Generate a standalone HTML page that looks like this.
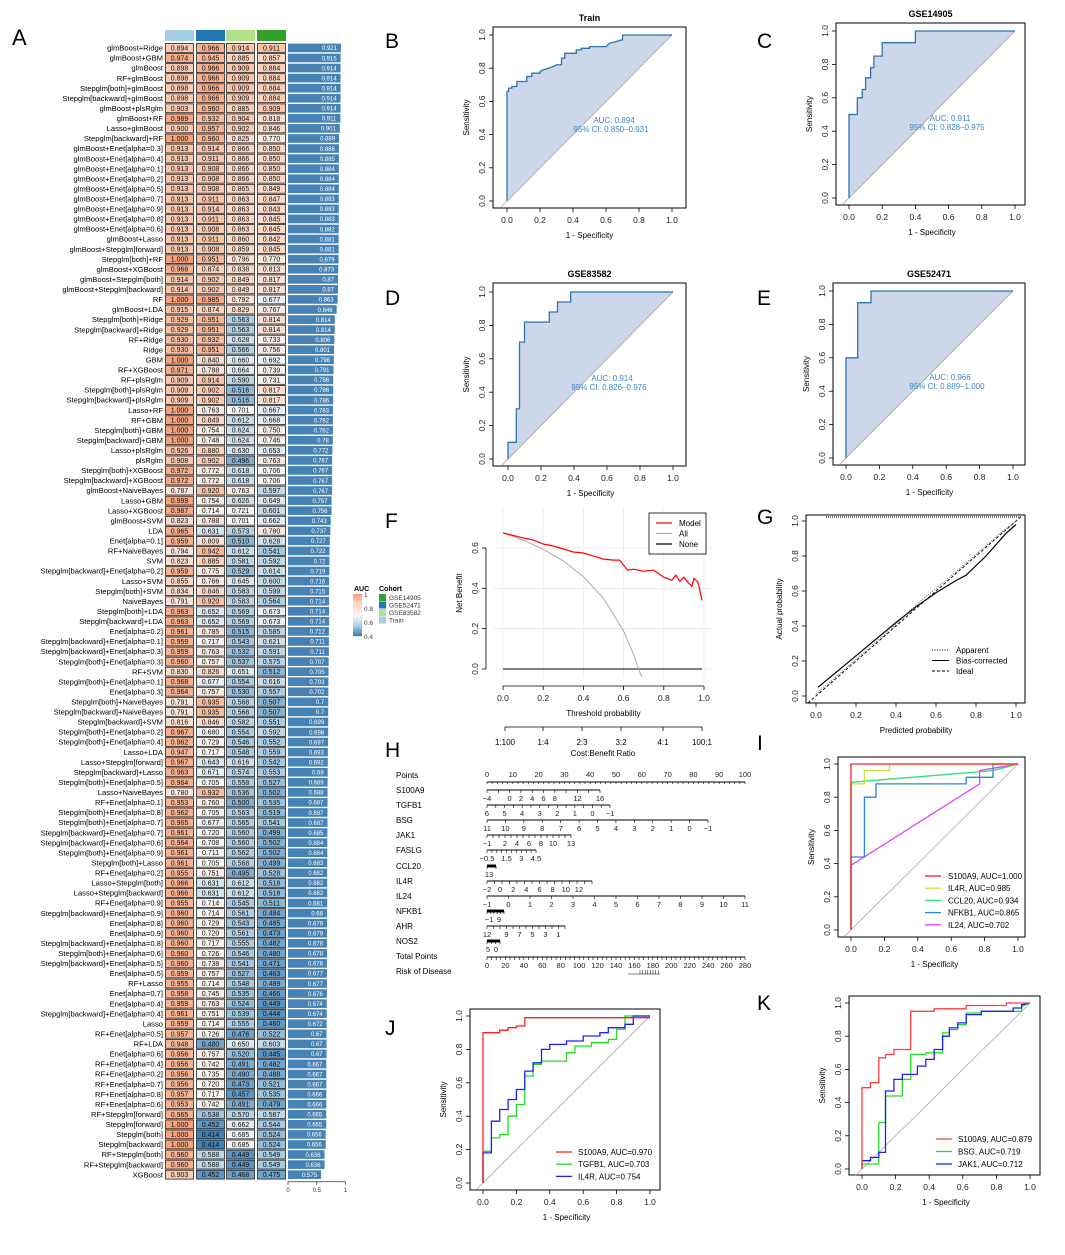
<!DOCTYPE html>
<html><head><meta charset="utf-8"><title>Model AUC figure</title>
<style>
html,body{margin:0;padding:0;background:#fff;}
svg text{font-family:"Liberation Sans",Arial,sans-serif;}
</style></head>
<body>
<svg id="fig" xmlns="http://www.w3.org/2000/svg" width="1065" height="1250" viewBox="0 0 1065 1250">
<rect x="0" y="0" width="1065" height="1250" fill="#fff"/>
<g id="panelA"></g>
<g id="plots"></g>
</svg>
<script>
// ===== Panel A data =====
const models = ["glmBoost+Ridge","glmBoost+GBM","glmBoost","RF+glmBoost","Stepglm[both]+glmBoost","Stepglm[backward]+glmBoost","glmBoost+plsRglm","glmBoost+RF","Lasso+glmBoost","Stepglm[backward]+RF","glmBoost+Enet[alpha=0.3]","glmBoost+Enet[alpha=0.4]","glmBoost+Enet[alpha=0.1]","glmBoost+Enet[alpha=0.2]","glmBoost+Enet[alpha=0.5]","glmBoost+Enet[alpha=0.7]","glmBoost+Enet[alpha=0.9]","glmBoost+Enet[alpha=0.8]","glmBoost+Enet[alpha=0.6]","glmBoost+Lasso","glmBoost+Stepglm[forward]","Stepglm[both]+RF","glmBoost+XGBoost","glmBoost+Stepglm[both]","glmBoost+Stepglm[backward]","RF","glmBoost+LDA","Stepglm[both]+Ridge","Stepglm[backward]+Ridge","RF+Ridge","Ridge","GBM","RF+XGBoost","RF+plsRglm","Stepglm[both]+plsRglm","Stepglm[backward]+plsRglm","Lasso+RF","RF+GBM","Stepglm[both]+GBM","Stepglm[backward]+GBM","Lasso+plsRglm","plsRglm","Stepglm[both]+XGBoost","Stepglm[backward]+XGBoost","glmBoost+NaiveBayes","Lasso+GBM","Lasso+XGBoost","glmBoost+SVM","LDA","Enet[alpha=0.1]","RF+NaiveBayes","SVM","Stepglm[backward]+Enet[alpha=0.2]","Lasso+SVM","Stepglm[both]+SVM","NaiveBayes","Stepglm[both]+LDA","Stepglm[backward]+LDA","Enet[alpha=0.2]","Stepglm[backward]+Enet[alpha=0.1]","Stepglm[backward]+Enet[alpha=0.3]","Stepglm[both]+Enet[alpha=0.3]","RF+SVM","Stepglm[both]+Enet[alpha=0.1]","Enet[alpha=0.3]","Stepglm[both]+NaiveBayes","Stepglm[backward]+NaiveBayes","Stepglm[backward]+SVM","Stepglm[both]+Enet[alpha=0.2]","Stepglm[both]+Enet[alpha=0.4]","Lasso+LDA","Lasso+Stepglm[forward]","Stepglm[backward]+Lasso","Stepglm[both]+Enet[alpha=0.5]","Lasso+NaiveBayes","RF+Enet[alpha=0.1]","Stepglm[both]+Enet[alpha=0.8]","Stepglm[both]+Enet[alpha=0.7]","Stepglm[backward]+Enet[alpha=0.7]","Stepglm[backward]+Enet[alpha=0.6]","Stepglm[both]+Enet[alpha=0.9]","Stepglm[both]+Lasso","RF+Enet[alpha=0.2]","Lasso+Stepglm[both]","Lasso+Stepglm[backward]","RF+Enet[alpha=0.9]","Stepglm[backward]+Enet[alpha=0.9]","Enet[alpha=0.8]","Enet[alpha=0.9]","Stepglm[backward]+Enet[alpha=0.8]","Stepglm[both]+Enet[alpha=0.6]","Stepglm[backward]+Enet[alpha=0.5]","Enet[alpha=0.5]","RF+Lasso","Enet[alpha=0.7]","Enet[alpha=0.4]","Stepglm[backward]+Enet[alpha=0.4]","Lasso","RF+Enet[alpha=0.5]","RF+LDA","Enet[alpha=0.6]","RF+Enet[alpha=0.4]","RF+Enet[alpha=0.2]","RF+Enet[alpha=0.7]","RF+Enet[alpha=0.8]","RF+Enet[alpha=0.6]","RF+Stepglm[forward]","Stepglm[forward]","Stepglm[both]","Stepglm[backward]","RF+Stepglm[both]","RF+Stepglm[backward]","XGBoost"];
const cohorts = ["Train","GSE52471","GSE83582","GSE14905"];
const aucTrain = [0.894,0.974,0.898,0.898,0.898,0.898,0.903,0.989,0.900,1.000,0.913,0.913,0.913,0.913,0.913,0.913,0.913,0.913,0.913,0.913,0.913,1.000,0.968,0.914,0.914,1.000,0.915,0.929,0.929,0.930,0.930,1.000,0.971,0.909,0.909,0.909,1.000,1.000,1.000,1.000,0.926,0.908,0.972,0.972,0.787,0.999,0.987,0.823,0.965,0.959,0.794,0.823,0.959,0.855,0.834,0.791,0.963,0.963,0.961,0.959,0.959,0.960,0.830,0.968,0.964,0.791,0.791,0.816,0.967,0.962,0.947,0.967,0.963,0.964,0.780,0.953,0.962,0.965,0.961,0.964,0.961,0.961,0.955,0.966,0.966,0.955,0.960,0.960,0.960,0.960,0.960,0.960,0.959,0.955,0.958,0.959,0.961,0.959,0.957,0.948,0.956,0.956,0.956,0.956,0.957,0.953,0.965,1.000,1.000,1.000,0.960,0.960,0.903];
const aucGSE52471 = [0.966,0.945,0.966,0.966,0.966,0.966,0.960,0.932,0.957,0.960,0.914,0.911,0.908,0.908,0.908,0.911,0.914,0.911,0.908,0.911,0.908,0.951,0.874,0.902,0.902,0.985,0.874,0.951,0.951,0.932,0.951,0.840,0.788,0.914,0.902,0.902,0.763,0.849,0.754,0.748,0.880,0.902,0.772,0.772,0.920,0.754,0.714,0.788,0.631,0.809,0.942,0.885,0.775,0.766,0.846,0.920,0.652,0.652,0.785,0.717,0.763,0.757,0.826,0.677,0.757,0.935,0.935,0.846,0.680,0.729,0.717,0.643,0.671,0.705,0.932,0.760,0.705,0.677,0.720,0.708,0.711,0.705,0.751,0.631,0.631,0.714,0.714,0.729,0.720,0.717,0.726,0.738,0.757,0.714,0.745,0.763,0.751,0.714,0.726,0.480,0.757,0.742,0.735,0.720,0.717,0.742,0.538,0.452,0.414,0.414,0.588,0.588,0.452];
const aucGSE83582 = [0.914,0.885,0.909,0.909,0.909,0.909,0.885,0.904,0.902,0.825,0.866,0.866,0.866,0.866,0.865,0.863,0.863,0.863,0.863,0.860,0.859,0.796,0.838,0.849,0.849,0.792,0.829,0.563,0.563,0.628,0.566,0.660,0.664,0.590,0.516,0.516,0.701,0.612,0.624,0.624,0.630,0.496,0.618,0.618,0.763,0.626,0.721,0.701,0.573,0.510,0.612,0.581,0.529,0.645,0.583,0.583,0.569,0.569,0.515,0.543,0.532,0.537,0.651,0.554,0.530,0.568,0.568,0.582,0.554,0.546,0.548,0.616,0.574,0.558,0.536,0.500,0.563,0.565,0.560,0.560,0.562,0.568,0.495,0.612,0.612,0.545,0.561,0.543,0.561,0.555,0.546,0.541,0.527,0.548,0.535,0.524,0.539,0.555,0.476,0.650,0.520,0.491,0.490,0.473,0.457,0.491,0.570,0.662,0.685,0.685,0.449,0.449,0.468];
const aucGSE14905 = [0.911,0.857,0.884,0.884,0.884,0.884,0.909,0.818,0.846,0.770,0.850,0.850,0.850,0.850,0.849,0.847,0.843,0.845,0.845,0.842,0.845,0.770,0.813,0.817,0.817,0.677,0.767,0.814,0.814,0.733,0.756,0.692,0.739,0.731,0.817,0.817,0.667,0.668,0.750,0.746,0.653,0.763,0.706,0.706,0.597,0.649,0.601,0.662,0.780,0.628,0.541,0.592,0.614,0.600,0.599,0.564,0.673,0.673,0.585,0.621,0.591,0.575,0.512,0.616,0.557,0.507,0.507,0.551,0.592,0.552,0.559,0.542,0.553,0.527,0.502,0.535,0.519,0.541,0.499,0.502,0.502,0.499,0.528,0.518,0.518,0.511,0.484,0.485,0.473,0.482,0.480,0.471,0.463,0.489,0.466,0.449,0.444,0.460,0.522,0.603,0.445,0.482,0.488,0.521,0.535,0.479,0.587,0.544,0.524,0.524,0.549,0.549,0.475];
const meanAuc = [0.921,0.915,0.914,0.914,0.914,0.914,0.914,0.911,0.901,0.889,0.886,0.885,0.884,0.884,0.884,0.883,0.883,0.883,0.882,0.881,0.881,0.879,0.873,0.87,0.87,0.863,0.846,0.814,0.814,0.806,0.801,0.798,0.791,0.786,0.786,0.786,0.783,0.782,0.782,0.78,0.772,0.767,0.767,0.767,0.767,0.757,0.756,0.743,0.737,0.727,0.722,0.72,0.719,0.716,0.715,0.714,0.714,0.714,0.712,0.711,0.711,0.707,0.705,0.703,0.702,0.7,0.7,0.699,0.698,0.697,0.693,0.692,0.69,0.689,0.688,0.687,0.687,0.687,0.685,0.684,0.684,0.683,0.682,0.682,0.682,0.681,0.68,0.679,0.679,0.678,0.678,0.678,0.677,0.677,0.676,0.674,0.674,0.672,0.67,0.67,0.67,0.667,0.667,0.667,0.666,0.666,0.665,0.665,0.656,0.656,0.636,0.636,0.575];
const barTicks = [0,0.5,1];

// ===== Panels B-E ROC data (fpr, tpr) =====
const rocTrainFpr = [0,0,0.01,0.01,0.03,0.03,0.06,0.06,0.12,0.12,0.15,0.15,0.2,0.2,0.22,0.25,0.28,0.3,0.33,0.33,0.35,0.35,0.42,0.42,0.45,0.45,0.5,0.5,0.6,0.62,0.66,0.69,0.7,0.7,1];
const rocTrainTpr = [0,0.66,0.66,0.68,0.68,0.69,0.69,0.72,0.72,0.75,0.75,0.77,0.77,0.78,0.79,0.8,0.81,0.82,0.82,0.86,0.86,0.89,0.89,0.91,0.91,0.92,0.92,0.93,0.93,0.95,0.96,0.97,0.97,1,1];
const rocG14905Fpr = [0,0,0.05,0.05,0.08,0.08,0.1,0.1,0.13,0.13,0.15,0.15,0.2,0.2,0.4,0.4,1];
const rocG14905Tpr = [0,0.5,0.5,0.6,0.6,0.65,0.65,0.72,0.72,0.78,0.78,0.85,0.85,0.93,0.93,1,1];
const rocG83582Fpr = [0,0,0.05,0.05,0.07,0.07,0.1,0.1,0.25,0.25,0.3,0.3,0.38,0.38,1];
const rocG83582Tpr = [0,0.1,0.1,0.3,0.3,0.7,0.7,0.82,0.82,0.88,0.88,0.94,0.94,1,1];
const rocG52471Fpr = [0,0,0.07,0.07,0.15,0.15,1];
const rocG52471Tpr = [0,0.6,0.6,0.93,0.93,1,1];

// ===== Panel F DCA =====
const dcaT = [0,0.1,0.15,0.2,0.25,0.3,0.35,0.4,0.45,0.5,0.55,0.58,0.62,0.65,0.7,0.75,0.8,0.84,0.86,0.88,0.9,0.92,0.94,0.95,0.97,0.99];
const dcaModel = [0.675,0.65,0.64,0.62,0.61,0.595,0.58,0.575,0.56,0.545,0.54,0.54,0.49,0.495,0.485,0.49,0.455,0.44,0.465,0.435,0.455,0.43,0.41,0.45,0.43,0.34];
const dcaAllT = [0,0.1,0.2,0.3,0.4,0.5,0.6,0.65,0.675,0.69];
const dcaAll = [0.675,0.639,0.594,0.536,0.458,0.35,0.188,0.071,0,-0.04];

// ===== Panel G calibration =====
const calPred = [0.01,0.2,0.4,0.5,0.6,0.7,0.75,0.85,0.95,1.0];
const calBias = [0.05,0.23,0.42,0.51,0.59,0.66,0.69,0.8,0.93,0.98];
const calAppPred = [0,0.2,0.4,0.5,0.7,0.9,1];
const calApparent = [0.01,0.21,0.41,0.52,0.71,0.91,1];

// ===== Panel I =====
const iS100A9Fpr=[0,0,1], iS100A9Tpr=[0,1,1];
const iIL4RFpr=[0,0,0.08,0.08,0.23,0.23,1], iIL4RTpr=[0,0.88,0.88,0.96,0.96,1,1];
const iCCL20Fpr=[0,0,0.85,1], iCCL20Tpr=[0,0.89,0.96,1];
const iNFKB1Fpr=[0,0,0.08,0.08,0.15,0.15,0.69,0.69,0.85,0.85,1], iNFKB1Tpr=[0,0.44,0.44,0.8,0.8,0.88,0.88,0.92,0.92,1,1];
const iIL24Fpr=[0,0,0.77,0.77,1], iIL24Tpr=[0,0.39,0.88,0.96,1];

// ===== Panel J =====
const jS100A9Fpr=[0,0,0.1,0.1,0.15,0.15,0.2,0.2,0.25,0.25,1], jS100A9Tpr=[0,0.9,0.9,0.915,0.915,0.93,0.93,0.94,0.94,0.99,0.99];
const jTGFB1Fpr=[0,0,0.05,0.05,0.1,0.1,0.15,0.15,0.2,0.2,0.25,0.25,0.3,0.3,0.35,0.35,0.5,0.5,0.55,0.55,0.65,0.65,0.75,0.75,0.8,0.8,0.85,0.85,1];
const jTGFB1Tpr=[0,0.19,0.19,0.27,0.27,0.29,0.29,0.4,0.4,0.47,0.47,0.64,0.64,0.71,0.71,0.73,0.73,0.78,0.78,0.82,0.82,0.84,0.84,0.86,0.86,0.92,0.92,1,1];
const jIL4RFpr=[0,0,0.05,0.05,0.1,0.1,0.15,0.15,0.2,0.2,0.25,0.25,0.3,0.3,0.35,0.35,0.4,0.4,0.5,0.5,0.6,0.6,0.7,0.7,0.75,0.75,0.85,0.85,0.9,0.9,1];
const jIL4RTpr=[0,0.18,0.18,0.37,0.37,0.44,0.44,0.5,0.5,0.56,0.56,0.67,0.67,0.72,0.72,0.8,0.8,0.83,0.83,0.85,0.85,0.88,0.88,0.9,0.9,0.93,0.93,0.95,0.95,1,1];

// ===== Panel K =====
const kS100A9Fpr=[0,0,0.05,0.05,0.1,0.1,0.14,0.14,0.19,0.19,0.29,0.29,0.43,0.43,0.62,0.62,0.86,0.86,1];
const kS100A9Tpr=[0,0.49,0.49,0.52,0.52,0.67,0.67,0.69,0.69,0.72,0.72,0.95,0.95,0.965,0.965,0.985,0.985,1,1];
const kBSGFpr=[0,0,0.1,0.1,0.14,0.14,0.24,0.24,0.29,0.29,0.38,0.38,0.48,0.48,0.52,0.52,0.57,0.57,0.62,0.62,0.71,0.71,0.95,0.95,1];
const kBSGTpr=[0,0.03,0.03,0.28,0.28,0.44,0.44,0.54,0.54,0.69,0.69,0.7,0.7,0.82,0.82,0.84,0.84,0.87,0.87,0.94,0.94,0.95,0.95,0.98,1];
const kJAK1Fpr=[0,0,0.05,0.05,0.1,0.1,0.14,0.14,0.19,0.19,0.24,0.24,0.33,0.33,0.38,0.38,0.43,0.43,0.48,0.48,0.52,0.52,0.57,0.57,0.62,0.62,0.71,0.71,0.9,0.9,0.95,0.95,1];
const kJAK1Tpr=[0,0.05,0.05,0.07,0.07,0.1,0.1,0.47,0.47,0.54,0.54,0.57,0.57,0.62,0.62,0.66,0.66,0.72,0.72,0.8,0.8,0.85,0.85,0.88,0.88,0.93,0.93,0.95,0.95,0.97,0.97,0.99,1];

const NS="http://www.w3.org/2000/svg";
function mk(tag,attrs,parent,txt){const e=document.createElementNS(NS,tag);for(const k in attrs)e.setAttribute(k,attrs[k]);if(txt!==undefined)e.textContent=txt;(parent||plots).appendChild(e);return e;}
const plots=document.getElementById('plots');
const gA=document.getElementById('panelA');

function hex(c){return [parseInt(c.slice(1,3),16),parseInt(c.slice(3,5),16),parseInt(c.slice(5,7),16)];}
function mix(a,b,t){const A=hex(a),B=hex(b);return 'rgb('+A.map((v,i)=>Math.round(v+(B[i]-v)*t)).join(',')+')';}
function aucColor(v){
  if(v>=0.7){const t=Math.min(1,(v-0.7)/0.3);return t<0.6?mix('#f7f7f7','#fbd3bd',t/0.6):mix('#fbd3bd','#f5a27c',(t-0.6)/0.4);}
  const t=Math.min(1,(0.7-v)/0.3);return t<0.5?mix('#f7f7f7','#a9cce2',t/0.5):mix('#a9cce2','#3279b4',(t-0.5)/0.5);
}

// ----- Panel A -----
(function(){
  const top=43, rh=10.06, colX=[165,196,226,257], cw=29;
  const hdr=['#a6cee3','#1f78b4','#b2df8a','#33a02c'];
  const cols=[aucTrain,aucGSE52471,aucGSE83582,aucGSE14905];
  const t=mk('text',{x:12,y:45,'font-size':22},gA,'A');
  
  
  for(let c=0;c<4;c++){
    const r=mk('rect',{x:colX[c],y:30,width:cw,height:11,fill:hdr[c]},gA);
    
    
  }
  const bx0=288, bw=57.5;
  for(let i=0;i<models.length;i++){
    const y=top+i*rh;
    const lab=mk('text',{x:163,y:y+7.6,'font-size':7.6,'text-anchor':'end'},gA,models[i]);
    
    
    for(let c=0;c<4;c++){
      const v=cols[c][i];
      const r=mk('rect',{x:colX[c]+0.5,y:y+0.5,width:cw-1,height:rh-1.2,fill:aucColor(v),stroke:'#222','stroke-width':0.8},gA);
      
      
      const tx=mk('text',{x:colX[c]+cw/2,y:y+7.4,'font-size':7,'text-anchor':'middle',fill:'#111'},gA,v.toFixed(3));
      
      
    }
    const m=meanAuc[i];
    const b=mk('rect',{x:bx0,y:y+0.6,width:m*bw,height:rh-1.4,fill:'#4682b4'},gA);
    
    
    const bt=mk('text',{x:bx0+m*bw-4,y:y+7.2,'font-size':6,'text-anchor':'end',fill:'#fff'},gA,String(m));
    
    
  }
  const ay=top+models.length*rh+2;
  mk('line',{x1:bx0,x2:bx0+bw,y1:ay,y2:ay,stroke:'#333','stroke-width':0.7},gA);
  barTicks.forEach(v=>{
    mk('line',{x1:bx0+v*bw,x2:bx0+v*bw,y1:ay,y2:ay+3,stroke:'#333','stroke-width':0.7},gA);
    const tt=mk('text',{x:bx0+v*bw,y:ay+10,'font-size':6,'text-anchor':'middle',fill:'#333'},gA,String(v));
    
    
  });
  mk('text',{x:354,y:591,'font-size':7,'font-weight':'bold'},gA,'AUC');
  const steps=42;
  for(let k=0;k<steps;k++){const v=1-0.6*k/steps;mk('rect',{x:353,y:594+k,width:9,height:1.2,fill:aucColor(v)},gA);}
  [[1,'1'],[0.8,'0.8'],[0.6,'0.6'],[0.4,'0.4']].forEach(([v,l])=>{const y=594+(1-v)/0.6*42;mk('text',{x:364,y:y+3,'font-size':6.5,fill:'#444'},gA,l);});
  mk('text',{x:379,y:591,'font-size':7,'font-weight':'bold'},gA,'Cohort');
  [['#33a02c','GSE14905'],['#1f78b4','GSE52471'],['#b2df8a','GSE83582'],['#a6cee3','Train']].forEach(([c,l],k)=>{
    const y=594+k*7.5;
    const r=mk('rect',{x:379,y:y,width:7,height:7,fill:c},gA);
    
    
    mk('text',{x:389,y:y+6,'font-size':6.5,fill:'#333'},gA,l);
  });
})();

function panelLetter(l,x,y){const t=mk('text',{x:x,y:y,'font-size':21},plots,l);}

function frame(o){
  const g=mk('g',{});
  
  
  if(o.box!==false) mk('rect',{x:o.bx,y:o.by,width:o.bw,height:o.bh,fill:'none',stroke:'#000','stroke-width':1},g);
  const sx=v=>o.x0+(o.x1-o.x0)*(v-o.xmin)/(o.xmax-o.xmin);
  const sy=v=>o.y0+(o.y1-o.y0)*(v-o.ymin)/(o.ymax-o.ymin);
  const ab=o.by+o.bh+(o.axOff||0);
  mk('line',{x1:sx(o.xt[0]),x2:sx(o.xt[o.xt.length-1]),y1:ab,y2:ab,stroke:'#000','stroke-width':0.8},g);
  o.xt.forEach(v=>{mk('line',{x1:sx(v),x2:sx(v),y1:ab,y2:ab+4,stroke:'#000','stroke-width':0.8},g);
    mk('text',{x:sx(v),y:ab+15,'font-size':8.5,'text-anchor':'middle',fill:'#222'},g,v.toFixed(1));});
  const al=o.bx-(o.axOff||0);
  mk('line',{x1:al,x2:al,y1:sy(o.yt[0]),y2:sy(o.yt[o.yt.length-1]),stroke:'#000','stroke-width':0.8},g);
  o.yt.forEach(v=>{mk('line',{x1:al,x2:al-4,y1:sy(v),y2:sy(v),stroke:'#000','stroke-width':0.8},g);
    mk('text',{x:al-8,y:sy(v),'font-size':8.5,'text-anchor':'middle',fill:'#222',transform:`rotate(-90 ${al-8} ${sy(v)})`},g,v.toFixed(1));});
  if(o.xlab) mk('text',{x:(o.x0+o.x1)/2,y:ab+30,'font-size':8,'text-anchor':'middle'},g,o.xlab);
  if(o.ylab){const yy=(o.by+o.by+o.bh)/2,xx=al-24;mk('text',{x:xx,y:yy,'font-size':8,'text-anchor':'middle',transform:`rotate(-90 ${xx} ${yy})`},g,o.ylab);}
  if(o.title) mk('text',{x:(o.bx+o.bx+o.bw)/2,y:o.by-6,'font-size':9,'font-weight':'bold','text-anchor':'middle'},g,o.title);
  return {g,sx,sy};
}
const T01=[0,0.2,0.4,0.6,0.8,1.0];
function rocPanel(o){
  const f=frame(Object.assign({xmin:0,xmax:1,ymin:0,ymax:1,xt:T01,yt:T01,xlab:'1 - Specificity',ylab:'Sensitivity',axOff:0},o));
  const {g,sx,sy}=f;
  mk('line',{x1:sx(-0.04),y1:sy(-0.04),x2:sx(1),y2:sy(1),stroke:'#aaa','stroke-width':0.8},g);
  return f;
}
function curve(g,sx,sy,xs,ys,color,name,w){
  const p=mk('polyline',{points:xs.map((x,i)=>sx(x).toFixed(1)+','+sy(ys[i]).toFixed(1)).join(' '),fill:'none',stroke:color,'stroke-width':w||1.3},g);
  
  
  return p;
}
function filledRoc(o,fx,fy,auc,ci,ax,ay){
  const {g,sx,sy}=rocPanel(o);
  const pts=fx.map((x,i)=>sx(x).toFixed(1)+','+sy(fy[i]).toFixed(1));
  pts.push(sx(0).toFixed(1)+','+sy(0).toFixed(1));
  const a=mk('polygon',{points:pts.join(' '),fill:'#ccd7e9',stroke:'none'},g);
  
  
  mk('line',{x1:sx(0),y1:sy(0),x2:sx(1),y2:sy(1),stroke:'#aaa','stroke-width':0.8},g);
  curve(g,sx,sy,fx,fy,'#2e74b5','roc-curve',1.3);
  mk('text',{x:ax,y:ay,'font-size':8,'text-anchor':'middle',fill:'#3d85c6'},g,'AUC: '+auc);
  mk('text',{x:ax-3,y:ay+9,'font-size':8,'text-anchor':'middle',fill:'#3d85c6'},g,'95% CI: '+ci);
}
panelLetter('B',385,48);panelLetter('C',757,48);panelLetter('D',385,305);panelLetter('E',757,305);
panelLetter('F',385,528);panelLetter('G',757,524);panelLetter('H',385,757);panelLetter('I',757,750);
panelLetter('J',385,1035);panelLetter('K',757,1010);

filledRoc({name:'roc-train',bx:493,by:27,bw:193,bh:181,x0:507,x1:672,y0:201,y1:35,title:'Train'},rocTrainFpr,rocTrainTpr,'0.894','0.850\u20130.931',614,123);
filledRoc({name:'roc-gse14905',bx:836,by:23,bw:189,bh:182,x0:849,x1:1015,y0:198,y1:31,title:'GSE14905'},rocG14905Fpr,rocG14905Tpr,'0.911','0.828\u20130.975',950,121);
filledRoc({name:'roc-gse83582',bx:493,by:283,bw:193,bh:183,x0:508,x1:673,y0:459,y1:292,title:'GSE83582'},rocG83582Fpr,rocG83582Tpr,'0.914','0.826\u20130.976',612,381);
filledRoc({name:'roc-gse52471',bx:833,by:283,bw:192,bh:182,x0:846,x1:1013,y0:458,y1:291,title:'GSE52471'},rocG52471Fpr,rocG52471Tpr,'0.966','0.889\u20131.000',950,380);

// ----- Panel F DCA -----
(function(){
  const f=frame({name:'dca-plot',box:false,bx:494,by:508,bw:215,bh:170,x0:503,x1:704,y0:669,y1:548,xmin:0,xmax:1,ymin:0,ymax:0.6,xt:T01,yt:[0,0.2,0.4,0.6],xlab:'Threshold probability',ylab:'Net Benefit',axOff:8});
  const {g,sx,sy}=f;
  [0,0.2,0.4,0.6].forEach(v=>mk('line',{x1:494,x2:712,y1:sy(v),y2:sy(v),stroke:'#e6e6e6','stroke-width':0.8},g));
  T01.forEach(v=>mk('line',{x1:sx(v),x2:sx(v),y1:508,y2:678,stroke:'#ececec','stroke-width':0.8},g));
  const nl=mk('line',{x1:sx(0),x2:sx(0.99),y1:sy(0),y2:sy(0),stroke:'#000','stroke-width':1},g);
  
  
  curve(g,sx,sy,dcaAllT,dcaAll,'#aaaaaa','dca-all',1);
  curve(g,sx,sy,dcaT,dcaModel,'#ff0000','dca-model',1.2);
  const lg=mk('g',{},g);
  mk('rect',{x:649,y:513,width:57,height:41,fill:'#fff',stroke:'#000','stroke-width':0.8},lg);
  [['#ff0000','Model'],['#aaaaaa','All'],['#000','None']].forEach(([c,l],k)=>{const y=523+k*10.5;mk('line',{x1:656,x2:672,y1:y,y2:y,stroke:c,'stroke-width':1.2},lg);mk('text',{x:679,y:y+3,'font-size':8},lg,l);});
  const cb=['1:100','1:4','2:3','3:2','4:1','100:1'], cbx=[505,543,582,621,663,702];
  mk('line',{x1:505,x2:702,y1:727,y2:727,stroke:'#000','stroke-width':0.8},g);
  cb.forEach((l,k)=>{mk('line',{x1:cbx[k],x2:cbx[k],y1:727,y2:731,stroke:'#000','stroke-width':0.8},g);mk('text',{x:cbx[k],y:745,'font-size':8,'text-anchor':'middle'},g,l);});
  mk('text',{x:603,y:756,'font-size':8,'text-anchor':'middle'},g,'Cost:Benefit Ratio');
})();

// ----- Panel G calibration -----
(function(){
  const f=frame({name:'calibration-plot',bx:806,by:515,bw:219,bh:188,x0:816,x1:1016,y0:696,y1:521,xmin:0,xmax:1,ymin:0,ymax:1,xt:T01,yt:T01,xlab:'Predicted probability',ylab:'Actual probability',axOff:0});
  const {g,sx,sy}=f;
  const id=mk('line',{x1:sx(-0.04),y1:sy(-0.04),x2:sx(1.03),y2:sy(1.03),stroke:'#000','stroke-width':0.9,'stroke-dasharray':'3,2'},g);
  
  
  curve(g,sx,sy,calAppPred,calApparent,'#555','apparent-line',0.9).setAttribute('stroke-dasharray','1,1.5');
  curve(g,sx,sy,calPred,calBias,'#000','bias-corrected-line',1.2);
  mk('line',{x1:sx(0.05),x2:sx(1.02),y1:517,y2:517,stroke:'#000','stroke-width':1,'stroke-dasharray':'1,1'},g);
  [['1,1.5','Apparent'],['','Bias-corrected'],['3,2','Ideal']].forEach(([d,l],k)=>{const y=650+k*10.5;const ln=mk('line',{x1:932,x2:949,y1:y,y2:y,stroke:'#000','stroke-width':1},g);if(d)ln.setAttribute('stroke-dasharray',d);mk('text',{x:956,y:y+3,'font-size':8},g,l);});
})();

// ----- Panel H nomogram -----
(function(){
  const g=mk('g',{});
  const px0=487,px1=745;
  const rowsY=[775,790,805,820,835,850,866,881,896,911,926,941,956,971];
  const names=['Points','S100A9','TGFB1','BSG','JAK1','FASLG','CCL20','IL4R','IL24','NFKB1','AHR','NOS2','Total Points','Risk of Disease'];
  names.forEach((n,k)=>{const t=mk('text',{x:396,y:rowsY[k]+3,'font-size':8},g,n);});
  function scale(y,xa,xb,labels,lx,nMinor,above,thick){
    mk('line',{x1:xa,x2:xb,y1:y,y2:y,stroke:'#000','stroke-width':thick?3:0.9},g);
    for(let i=0;i<=nMinor;i++){const x=xa+(xb-xa)*i/nMinor;mk('line',{x1:x,x2:x,y1:y,y2:above?y+2:y+3,stroke:'#000','stroke-width':0.6},g);}
    labels.forEach((l,i)=>mk('text',{x:lx[i],y:above?y-5:y+11,'font-size':7.5,'text-anchor':'middle',fill:'#222'},g,l));
  }
  const pts=[0,10,20,30,40,50,60,70,80,90,100];
  scale(782,px0,px1,pts.map(String),pts.map(v=>px0+(px1-px0)*v/100),50,true);
  const L=(a,b,vals,vmin,vmax)=>vals.map(v=>a+(b-a)*(v-vmin)/(vmax-vmin));
  scale(790,487,600,['\u22124','0','2','4','6','8','12','16'],L(487,600,[-4,0,2,4,6,8,12,16],-4,16),10);
  scale(805,487,610,['6','5','4','3','2','1','0','\u22121'],L(487,610,[6,5,4,3,2,1,0,-1],6,-1),14);
  scale(820,487,708,['11','10','9','8','7','6','5','4','3','2','1','0','\u22121'],L(487,708,[11,10,9,8,7,6,5,4,3,2,1,0,-1],11,-1),12);
  scale(835,487,571,['\u22121','2','4','6','8','10','13'],L(487,571,[-1,2,4,6,8,10,13],-1,13),14);
  scale(850,487,536,['\u22120.5','1.5','3','4.5'],L(487,536,[-0.5,1.5,3,4.5],-0.5,4.5),10);
  scale(866,487,496,['13'],[489],1,false,true);
  scale(881,487,592,['\u22122','0','2','4','6','8','10','12'],L(487,592,[-2,0,2,4,6,8,10,12],-2,14),14);
  scale(896,487,745,['\u22121','0','1','2','3','4','5','6','7','8','9','10','11'],L(487,745,[-1,0,1,2,3,4,5,6,7,8,9,10,11],-1,11),12);
  scale(911,487,504,['\u22121','9'],[489,499],5,false,true);
  scale(926,487,565,['12','9','7','5','3','1'],L(487,565,[12,9,7,5,3,1],12,0),12);
  scale(941,487,500,['5','0'],[488,496],3,false,true);
  const tp=[0,20,40,60,80,100,120,140,160,180,200,220,240,260,280];
  scale(957,px0,px1,tp.map(String),tp.map(v=>px0+(px1-px0)*v/280),56,false);
  mk('line',{x1:628,x2:660,y1:974,y2:974,stroke:'#000','stroke-width':0.6},g);
  for(let i=0;i<8;i++){const x=640+i*2.6;mk('line',{x1:x,x2:x,y1:970,y2:974,stroke:'#000','stroke-width':0.5},g);}
})();

// ----- Panel I -----
(function(){
  const {g,sx,sy}=rocPanel({name:'roc-genes-i',bx:838,by:757,bw:187,bh:180,x0:851,x1:1018,y0:930,y1:764});
  curve(g,sx,sy,iIL24Fpr,iIL24Tpr,'#e040fb','roc-il24');
  curve(g,sx,sy,iNFKB1Fpr,iNFKB1Tpr,'#2f80ed','roc-nfkb1');
  curve(g,sx,sy,iCCL20Fpr,iCCL20Tpr,'#2ee06e','roc-ccl20');
  curve(g,sx,sy,iIL4RFpr,iIL4RTpr,'#c8e040','roc-il4r');
  curve(g,sx,sy,iS100A9Fpr,iS100A9Tpr,'#ff2020','roc-s100a9');
  [['#ff2020','S100A9, AUC=1.000'],['#c8e040','IL4R, AUC=0.985'],['#2ee06e','CCL20, AUC=0.934'],['#2f80ed','NFKB1, AUC=0.865'],['#e040fb','IL24, AUC=0.702']].forEach(([c,l],k)=>{const y=876+k*12.2;mk('line',{x1:925,x2:941,y1:y,y2:y,stroke:c,'stroke-width':1.3},g);mk('text',{x:948,y:y+3,'font-size':8},g,l);});
})();
// ----- Panel J -----
(function(){
  const {g,sx,sy}=rocPanel({name:'roc-genes-j',bx:470,by:1009,bw:190,bh:181,x0:483,x1:650,y0:1183,y1:1016});
  curve(g,sx,sy,jTGFB1Fpr,jTGFB1Tpr,'#22dd22','roc-tgfb1');
  curve(g,sx,sy,jIL4RFpr,jIL4RTpr,'#2020ff','roc-il4r');
  curve(g,sx,sy,jS100A9Fpr,jS100A9Tpr,'#ff2020','roc-s100a9');
  [['#ff2020','S100A9, AUC=0.970'],['#22dd22','TGFB1, AUC=0.703'],['#2020ff','IL4R, AUC=0.754']].forEach(([c,l],k)=>{const y=1152+k*12.2;mk('line',{x1:556,x2:572,y1:y,y2:y,stroke:c,'stroke-width':1.3},g);mk('text',{x:578,y:y+3,'font-size':8},g,l);});
})();
// ----- Panel K -----
(function(){
  const {g,sx,sy}=rocPanel({name:'roc-genes-k',bx:849,by:996,bw:191,bh:179,x0:862,x1:1030,y0:1169,y1:1003});
  curve(g,sx,sy,kBSGFpr,kBSGTpr,'#22dd22','roc-bsg');
  curve(g,sx,sy,kJAK1Fpr,kJAK1Tpr,'#2020ff','roc-jak1');
  curve(g,sx,sy,kS100A9Fpr,kS100A9Tpr,'#ff4040','roc-s100a9');
  [['#ff4040','S100A9, AUC=0.879'],['#22dd22','BSG, AUC=0.719'],['#2020ff','JAK1, AUC=0.712']].forEach(([c,l],k)=>{const y=1139+k*12.5;mk('line',{x1:936,x2:952,y1:y,y2:y,stroke:c,'stroke-width':1.3},g);mk('text',{x:958,y:y+3,'font-size':8},g,l);});
})();
</script>
</body></html>
